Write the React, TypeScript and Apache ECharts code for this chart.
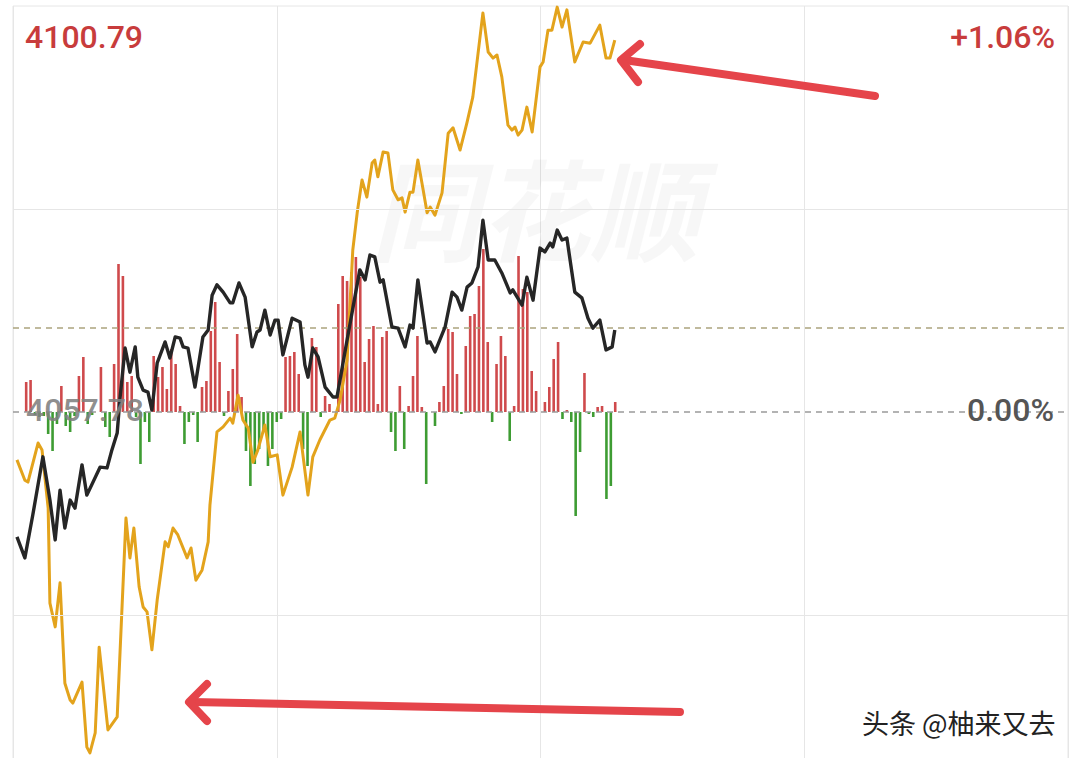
import React, { useEffect, useRef } from "react";
import * as echarts from "echarts";

// Reference values
const preCloseLabel = "4057.78";
const topPriceLabel = "4100.79";
const topPctLabel = "+1.06%";
const zeroPctLabel = "0.00%";
const pctMax = 1.06;
const pctStep = 0.53;
const refLinePct = 0.217;
const minuteMax = 240;
const minuteStep = 60;

// Black line: index change in % at [minute, pct]
const priceLine: [number, number][] = [
  [0.9, -0.326], [2.7, -0.381], [4.5, -0.269], [6.8, -0.117], [8.4, -0.23], [9.6, -0.334],
  [10.7, -0.204], [11.8, -0.303], [13.0, -0.23], [14.1, -0.251], [15.7, -0.138], [16.8, -0.217],
  [19.8, -0.144], [21.4, -0.146], [22.5, -0.099], [23.7, -0.055], [24.3, 0.031], [25.5, 0.167],
  [26.6, 0.104], [27.8, 0.17], [28.4, 0.091], [29.6, 0.057], [30.7, 0.052], [31.6, 0.005],
  [32.8, 0.128], [34.6, 0.183], [35.7, 0.141], [36.9, 0.196], [38.0, 0.193], [38.7, 0.17],
  [39.8, 0.167], [41.4, 0.065], [43.2, 0.196], [44.4, 0.214], [45.3, 0.305], [46.4, 0.332],
  [47.8, 0.313], [49.4, 0.285], [50.0, 0.285], [51.4, 0.337], [52.8, 0.3], [54.4, 0.17],
  [55.5, 0.209], [56.2, 0.214], [57.3, 0.266], [58.5, 0.201], [59.6, 0.24], [60.3, 0.24],
  [61.4, 0.149], [63.5, 0.245], [65.3, 0.235], [66.4, 0.123], [67.1, 0.091], [68.2, 0.167],
  [69.4, 0.144], [71.0, 0.065], [72.8, 0.039], [73.7, 0.039], [76.0, 0.188], [78.9, 0.371],
  [80.1, 0.345], [81.2, 0.41], [82.3, 0.405], [83.5, 0.339], [84.2, 0.345], [86.2, 0.222],
  [87.6, 0.219], [89.2, 0.17], [90.3, 0.227], [91.0, 0.219], [92.1, 0.345], [94.2, 0.18],
  [94.9, 0.183], [96.0, 0.157], [98.3, 0.222], [99.9, 0.313], [101.0, 0.3], [102.1, 0.266],
  [103.3, 0.326], [104.4, 0.337], [105.8, 0.379], [106.9, 0.501], [108.1, 0.397], [109.6, 0.397],
  [111.2, 0.363], [113.1, 0.311], [113.7, 0.319], [115.8, 0.279], [116.9, 0.352], [118.3, 0.292],
  [119.9, 0.428], [121.0, 0.418], [122.2, 0.441], [122.8, 0.431], [123.8, 0.475], [124.9, 0.449],
  [126.0, 0.454], [127.8, 0.313], [129.4, 0.298], [130.8, 0.245], [131.9, 0.219], [133.5, 0.24],
  [134.9, 0.162], [136.3, 0.17], [136.9, 0.214],
];

// Yellow line: leading indicator change in % at [minute, pct]
const leadLine: [number, number][] = [
  [0.9, -0.125], [2.7, -0.178], [3.4, -0.183], [5.7, -0.081], [6.6, -0.099], [8.0, -0.251],
  [8.4, -0.499], [9.6, -0.561], [10.7, -0.446], [11.8, -0.708], [13.0, -0.752], [13.6, -0.76],
  [15.7, -0.705], [16.8, -0.875], [17.5, -0.89], [18.7, -0.838], [19.6, -0.614], [21.6, -0.83],
  [23.7, -0.796], [25.7, -0.277], [26.6, -0.381], [27.5, -0.303], [28.7, -0.457], [29.6, -0.509],
  [30.5, -0.522], [31.6, -0.621], [32.8, -0.491], [34.6, -0.339], [35.3, -0.352], [36.4, -0.303],
  [37.5, -0.321], [39.6, -0.381], [40.5, -0.355], [41.6, -0.439], [43.0, -0.413], [44.4, -0.339],
  [44.8, -0.243], [46.4, -0.052], [47.8, -0.039], [49.4, -0.016], [50.0, -0.029], [51.2, 0.044],
  [52.3, -0.021], [53.5, -0.042], [54.6, -0.131], [55.7, -0.099], [57.3, -0.034], [58.5, -0.117],
  [60.1, -0.112], [61.4, -0.217], [63.5, -0.144], [65.3, -0.052], [67.1, -0.217], [68.2, -0.117],
  [69.8, -0.073], [72.1, -0.021], [73.2, -0.016], [74.4, 0.031], [76.0, 0.136], [77.3, 0.423],
  [78.3, 0.52], [79.4, 0.606], [80.5, 0.561], [81.7, 0.65], [82.3, 0.658], [83.0, 0.614],
  [84.2, 0.679], [85.3, 0.676], [86.4, 0.58], [87.6, 0.554], [88.5, 0.559], [89.2, 0.522],
  [90.3, 0.574], [91.0, 0.574], [92.1, 0.658], [93.3, 0.58], [94.2, 0.52], [94.9, 0.535],
  [96.0, 0.514], [97.6, 0.572], [99.0, 0.728], [100.1, 0.742], [101.7, 0.684], [103.3, 0.757],
  [104.6, 0.822], [106.9, 1.042], [108.1, 0.94], [109.2, 0.924], [110.1, 0.932], [111.2, 0.875],
  [112.6, 0.749], [113.5, 0.736], [114.2, 0.744], [114.9, 0.723], [115.8, 0.736], [116.9, 0.796],
  [118.1, 0.731], [119.9, 0.901], [120.6, 0.914], [121.7, 0.997], [122.6, 0.997], [123.8, 1.057],
  [124.9, 1.005], [126.0, 1.05], [127.8, 0.914], [129.7, 0.966], [131.3, 0.963], [133.5, 1.01],
  [134.9, 0.924], [135.8, 0.924], [136.9, 0.971],
];

// Red/green buying-power bars, one per minute from 0
const flowBars: number[] = [
  0, 0, 0, 30, 32, -3, -5, -4, -22, -39,
  -12, 26, -14, -20, -4, 36, 55, -12, -3, 0,
  45, -15, -25, 48, 148, 136, 30, 36, -5, -52,
  -10, -30, 56, 35, 45, 23, 63, 48, 6, -32,
  -10, -3, -30, 25, 31, 81, 110, 50, -4, 21,
  43, 78, 15, -39, -74, -52, -37, -20, -54, -37,
  -10, -7, 55, 56, 60, 38, -37, -54, 74, 65,
  -5, 16, 8, 0, 108, 136, 131, 140, 155, 135,
  50, 73, 86, 8, 75, 81, -20, -39, 26, -37,
  6, 36, 76, 5, -72, 0, -14, 10, 26, 83,
  80, 38, -2, 66, 96, 98, 126, 163, 70, -10,
  48, 76, 56, -29, 6, 156, 123, 120, 41, 21,
  0, 10, 25, 53, 70, -7, 2, -10, -104, -40,
  39, -2, -5, 5, 6, -87, -74, 10,
];
const flowRange = 406;

export default function App() {
  const ref = useRef<HTMLDivElement>(null);
  useEffect(() => {
    if (!ref.current) return;
    const chart = echarts.init(ref.current, null, { renderer: "svg" });
    const RED = "#c83c3c";
    const BAR_RED = "#cf4a4c";
    const BAR_GREEN = "#3e9c33";
    const GRID = "#e6e6e6";
    const ARROW = "#e5444a";
    const barData = flowBars
      .map((v, i) => ({ v, i }))
      .filter((d) => d.v !== 0)
      .map((d) => ({ value: [d.i, d.v], itemStyle: { color: d.v > 0 ? BAR_RED : BAR_GREEN } }));
    const numFont = "Roboto, 'Noto Sans', sans-serif";
    chart.setOption({
      animation: false,
      backgroundColor: "#ffffff",
      grid: {
        left: 13, right: 12, top: 6, bottom: 12,
        show: true, borderColor: GRID, borderWidth: 1, backgroundColor: "transparent",
      },
      xAxis: {
        type: "value", min: 0, max: minuteMax, interval: minuteStep,
        axisLine: { show: false }, axisTick: { show: false }, axisLabel: { show: false },
        splitLine: { show: true, lineStyle: { color: GRID, width: 1 } },
      },
      yAxis: [
        {
          type: "value", min: -pctMax, max: pctMax, interval: pctStep,
          axisLine: { show: false }, axisTick: { show: false }, axisLabel: { show: false },
          splitLine: { show: false },
        },
        {
          type: "value", min: -flowRange, max: flowRange, show: false,
          splitLine: { show: false },
        },
      ],
      series: [
        {
          type: "line", yAxisIndex: 0, data: [], silent: true,
          markLine: {
            silent: true, symbol: ["none", "none"], label: { show: false },
            data: [
              { yAxis: pctStep, lineStyle: { color: GRID, width: 1, type: "solid" } },
              { yAxis: -pctStep, lineStyle: { color: GRID, width: 1, type: "solid" } },
              { yAxis: refLinePct, lineStyle: { color: "#aca47e", width: 1.5, type: [6, 5] } },
            ],
          },
        },
        {
          type: "bar", yAxisIndex: 1, barWidth: 2.6, data: barData, silent: true, z: 2,
        },
        {
          type: "line", yAxisIndex: 0, data: [], silent: true, z: 3,
          markLine: {
            silent: true, symbol: ["none", "none"], label: { show: false },
            data: [{ yAxis: 0, lineStyle: { color: "#9a9a9a", width: 1.5, type: [6, 5] } }],
          },
        },
        {
          type: "line", yAxisIndex: 0, data: leadLine, showSymbol: false, silent: true, z: 4,
          lineStyle: { color: "#e3a31c", width: 3, join: "round" },
        },
        {
          type: "line", yAxisIndex: 0, data: priceLine, showSymbol: false, silent: true, z: 5,
          lineStyle: { color: "#262626", width: 3.4, join: "round" },
        },
      ],
      graphic: [
        {
          type: "text", x: 535, y: 205, z: 1, silent: true,
          style: {
            text: "同花顺", fill: "rgba(0,0,0,0.03)", align: "center", verticalAlign: "middle",
            fontSize: 110, fontWeight: "bold", fontStyle: "italic",
            fontFamily: "'Noto Sans CJK SC', sans-serif",
          },
        },
        {
          type: "text", x: 25, y: 37, z: 100,
          style: { text: topPriceLabel, fill: RED, fontSize: 32, fontWeight: 500, fontFamily: numFont, verticalAlign: "middle" },
        },
        {
          type: "text", x: 1055, y: 37, z: 100,
          style: { text: topPctLabel, fill: RED, fontSize: 32, fontWeight: 500, fontFamily: numFont, align: "right", verticalAlign: "middle" },
        },
        {
          type: "text", x: 1054, y: 410, z: 100,
          style: { text: zeroPctLabel, fill: "#555555", fontSize: 32, fontWeight: 500, fontFamily: numFont, align: "right", verticalAlign: "middle" },
        },
        {
          type: "text", x: 26, y: 410, z: 100,
          style: { text: preCloseLabel, fill: "rgba(128,128,128,0.88)", fontSize: 32, fontWeight: 500, fontFamily: numFont, verticalAlign: "middle" },
        },
        {
          type: "text", x: 862, y: 722, z: 100,
          style: { text: "头条 @柚来又去", fill: "#222222", fontSize: 27, fontFamily: "'Noto Sans CJK SC', sans-serif", verticalAlign: "middle" },
        },
        {
          type: "polyline", z: 100,
          shape: { points: [[875, 96], [624, 60]] },
          style: { stroke: ARROW, lineWidth: 8, lineCap: "round", lineJoin: "round", fill: "none" },
        },
        {
          type: "polyline", z: 100,
          shape: { points: [[640, 44], [621, 60], [638, 82]] },
          style: { stroke: ARROW, lineWidth: 8, lineCap: "round", lineJoin: "round", fill: "none" },
        },
        {
          type: "polyline", z: 100,
          shape: { points: [[680, 712], [192, 702]] },
          style: { stroke: ARROW, lineWidth: 8, lineCap: "round", lineJoin: "round", fill: "none" },
        },
        {
          type: "polyline", z: 100,
          shape: { points: [[207, 684], [189, 702], [207, 721]] },
          style: { stroke: ARROW, lineWidth: 8, lineCap: "round", lineJoin: "round", fill: "none" },
        },
      ],
    });
    return () => chart.dispose();
  }, []);
  return (
    <div
      ref={ref}
      style={{ position: "fixed", left: 0, top: 0, width: 1080, height: 830, background: "#fff" }}
    />
  );
}
